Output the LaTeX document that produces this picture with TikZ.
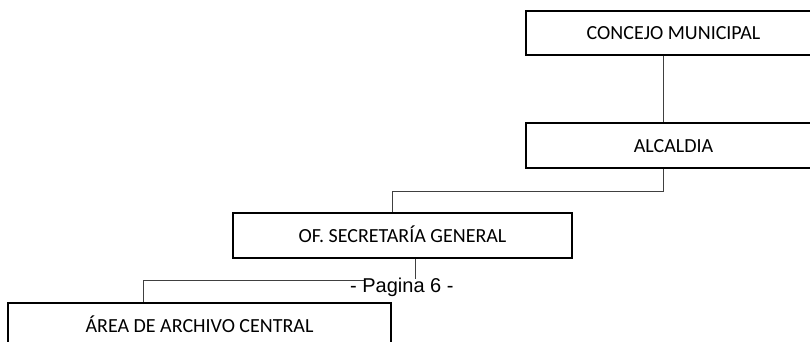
\documentclass[tikz,border=0pt]{standalone}
\usepackage{fontspec}
\setmainfont{Carlito}
\newfontfamily\pagefont{Liberation Sans}
\begin{document}
\begin{tikzpicture}[x=1pt,y=-1pt,
  unitbox/.style={draw=black, line width=1.4pt, fill=white, inner sep=0pt,
    minimum height=45pt, text height=13pt, text depth=0pt,
    font=\fontsize{20}{24}\selectfont},
  conn/.style={draw=black!75, line width=1pt}]
\useasboundingbox (0,0) rectangle (810,342);

% organisational units
\node[unitbox, minimum width=295pt, minimum height=44pt] (concejo) at (673.5,33) {CONCEJO MUNICIPAL};
\node[unitbox, minimum width=295pt] (alcaldia) at (673.5,145.5) {ALCALDIA};
\node[unitbox, minimum width=339pt] (secretaria) at (402.5,235.5) {OF. SECRETARÍA GENERAL};
\node[unitbox, minimum width=383pt] (archivo) at (199.5,325.5) {ÁREA DE ARCHIVO CENTRAL};

% routing guides for the connectors
\coordinate (xa) at (663,0);
\coordinate (xb) at (392,0);
\coordinate (xc) at (415,0);
\coordinate (xd) at (143,0);
\coordinate (ya) at (0,191);
\coordinate (yb) at (0,280);

% connectors
\draw[conn] (concejo.south -| xa) -- (alcaldia.north -| xa);
\draw[conn] (alcaldia.south -| xa) -- (xa |- ya) -- (xb |- ya) -- (secretaria.north -| xb);
\draw[conn] (secretaria.south -| xc) -- (xc |- yb) -- (xd |- yb) -- (archivo.north -| xd);

% page footer
\fill[white] (365,279) rectangle (462,300);
\node[anchor=base west, inner sep=0pt, font=\pagefont\fontsize{20}{24}\selectfont] (pagina) at (350,292) {- Pagina 6 -};
\end{tikzpicture}
\end{document}
